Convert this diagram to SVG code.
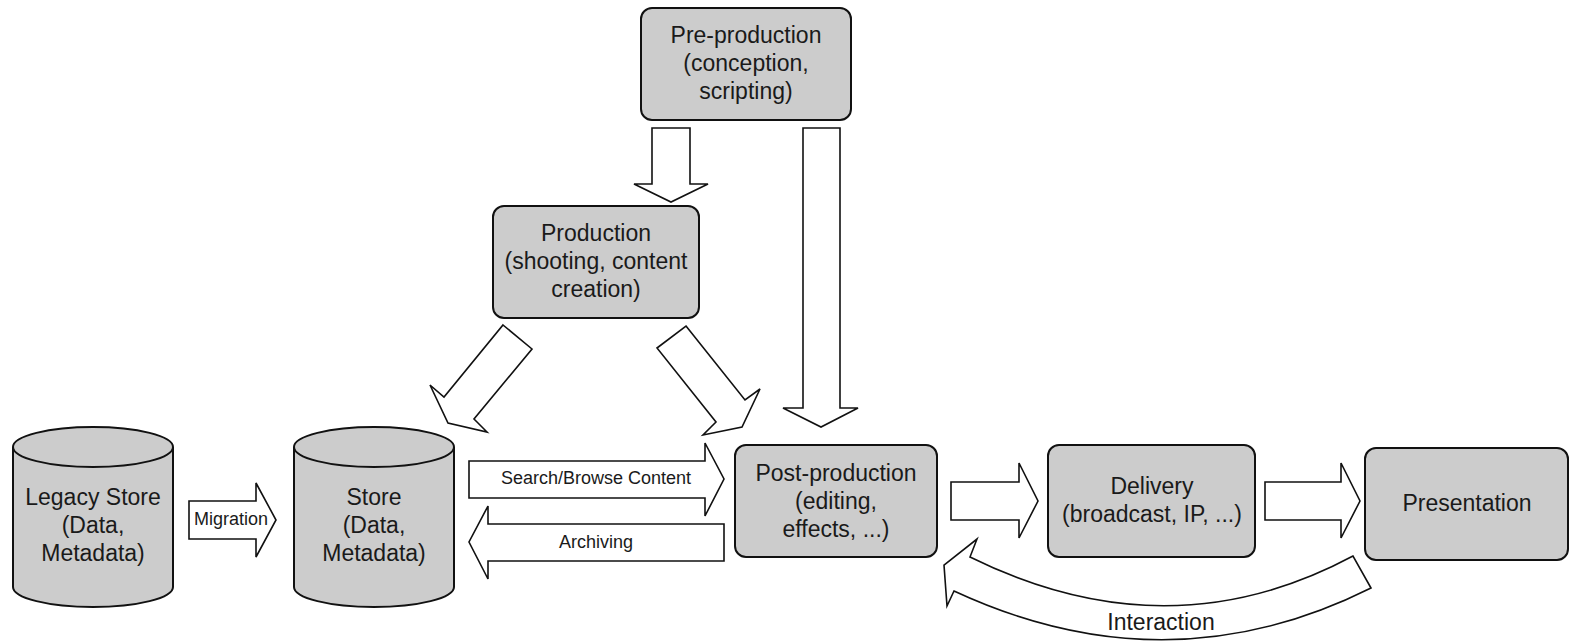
<svg xmlns="http://www.w3.org/2000/svg" width="1570" height="642" viewBox="0 0 1570 642">
  <style>
    .box { fill: #cccccc; stroke: #111111; stroke-width: 2; }
    .arrow { fill: #ffffff; stroke: #111111; stroke-width: 1.6; stroke-linejoin: miter; }
    .t { font-family: "Liberation Sans", Arial, sans-serif; font-size: 23px; fill: #1a1a1a; text-anchor: middle; }
    .s { font-family: "Liberation Sans", Arial, sans-serif; font-size: 18px; fill: #1a1a1a; text-anchor: middle; }
  </style>
  <rect width="1570" height="642" fill="#ffffff"/>

  <!-- block arrows -->
  <g id="connectors">
    <!-- pre-production to production -->
    <polygon class="arrow" points="652,128 690,128 690,184 708,184 671,202 634,184 652,184"/>
    <!-- pre-production to post-production -->
    <polygon class="arrow" points="803,128 840,128 840,408 858,408 821,427 783,408 803,408"/>
    <!-- production to store -->
    <polygon class="arrow" points="503,325 532,349 474,419 487,432 448,423 430,385 444,397"/>
    <!-- production to post-production -->
    <polygon class="arrow" points="686,326 745,400 760,389 742,427 703,435 716,422 657,348"/>
    <!-- migration -->
    <polygon class="arrow" points="189,501 256,501 256,483 276,520 256,557 256,539 189,539"/>
    <!-- search / browse -->
    <polygon class="arrow" points="469,461 705,461 705,443 724,479 705,516 705,498 469,498"/>
    <!-- archiving -->
    <polygon class="arrow" points="724,524 488,524 488,506 469,542 488,579 488,561 724,561"/>
    <!-- post-production to delivery -->
    <polygon class="arrow" points="951,482 1019,482 1019,463 1038,501 1019,538 1019,520 951,520"/>
    <!-- delivery to presentation -->
    <polygon class="arrow" points="1265,482 1341,482 1341,463 1360,501 1341,538 1341,520 1265,520"/>
    <!-- interaction (curved, back to post-production) -->
    <path class="arrow" d="M1353,556 Q1168,655 970,557 L977,539 L944,565 L947,606 L954,591 Q1167,690 1371,588 Z"/>
    <text class="s" x="231" y="525" font-size="17">Migration</text>
    <text class="s" x="596" y="484">Search/Browse Content</text>
    <text class="s" x="596" y="548">Archiving</text>
    <text class="t" x="1161" y="630">Interaction</text>
  </g>

  <g id="pre-production">
    <rect class="box" x="641" y="8" width="210" height="112" rx="11"/>
    <text class="t" x="746" y="43">Pre-production</text>
    <text class="t" x="746" y="71">(conception,</text>
    <text class="t" x="746" y="99">scripting)</text>
  </g>

  <g id="production">
    <rect class="box" x="493" y="206" width="206" height="112" rx="11"/>
    <text class="t" x="596" y="241">Production</text>
    <text class="t" x="596" y="269">(shooting, content</text>
    <text class="t" x="596" y="297">creation)</text>
  </g>

  <g id="legacy-store">
    <path class="box" d="M13,447 A80,20 0 0 1 173,447 L173,587 A80,20 0 0 1 13,587 Z"/>
    <path fill="none" stroke="#111111" stroke-width="2" d="M13,447 A80,20 0 0 0 173,447"/>
    <text class="t" x="93" y="505">Legacy Store</text>
    <text class="t" x="93" y="533">(Data,</text>
    <text class="t" x="93" y="561">Metadata)</text>
  </g>

  <g id="store">
    <path class="box" d="M294,447 A80,20 0 0 1 454,447 L454,587 A80,20 0 0 1 294,587 Z"/>
    <path fill="none" stroke="#111111" stroke-width="2" d="M294,447 A80,20 0 0 0 454,447"/>
    <text class="t" x="374" y="505">Store</text>
    <text class="t" x="374" y="533">(Data,</text>
    <text class="t" x="374" y="561">Metadata)</text>
  </g>

  <g id="post-production">
    <rect class="box" x="735" y="445" width="202" height="112" rx="11"/>
    <text class="t" x="836" y="481">Post-production</text>
    <text class="t" x="836" y="509">(editing,</text>
    <text class="t" x="836" y="537">effects, ...)</text>
  </g>

  <g id="delivery">
    <rect class="box" x="1048" y="445" width="207" height="112" rx="11"/>
    <text class="t" x="1152" y="494">Delivery</text>
    <text class="t" x="1152" y="522">(broadcast, IP, ...)</text>
  </g>

  <g id="presentation">
    <rect class="box" x="1365" y="448" width="203" height="112" rx="11"/>
    <text class="t" x="1467" y="511">Presentation</text>
  </g>
</svg>
